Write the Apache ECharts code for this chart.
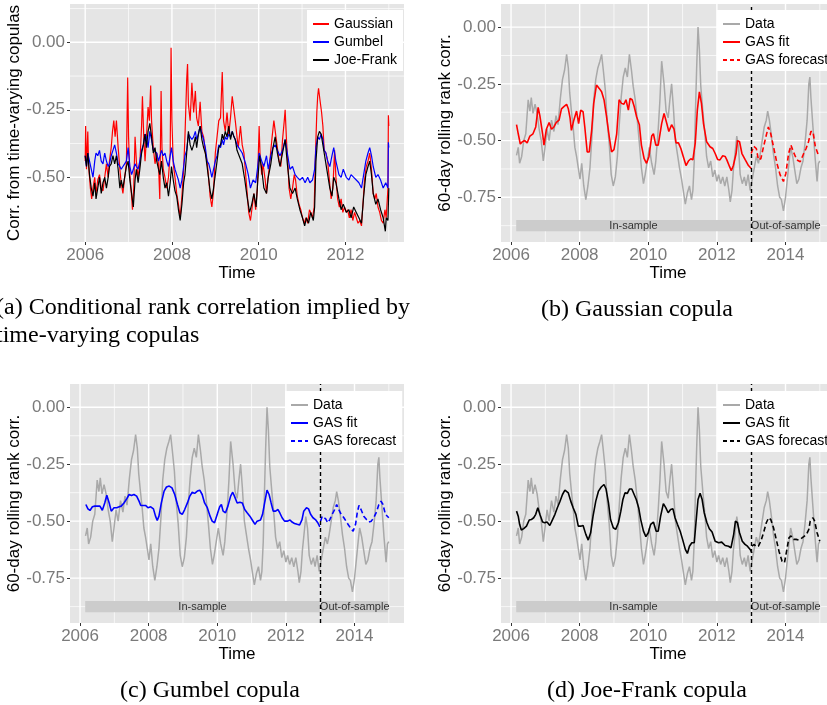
<!DOCTYPE html>
<html>
<head>
<meta charset="utf-8">
<script src="https://cdn.jsdelivr.net/npm/echarts@6/dist/echarts.min.js"></script>
<style>html,body{margin:0;padding:0;background:#fff;}#c{width:827px;height:705px;}</style>
</head>
<body>
<div id="c"></div>
<script>
// ---------- tick labels ----------
const xTicksA = [2006, 2008, 2010, 2012];
const xMinorA = [2007, 2009, 2011, 2013];
const xTicksB = [2006, 2008, 2010, 2012, 2014];
const xMinorB = [2007, 2009, 2011, 2013, 2015];
const yTicksA = [0, -0.25, -0.5];
const yMinorA = [0.125, -0.125, -0.375, -0.625];
const yTicksB = [0, -0.25, -0.5, -0.75];
const yMinorB = [-0.125, -0.375, -0.625, -0.875];

// ---------- panel (a): implied conditional rank correlation ----------
const gaussA = [[2006.00,-0.44],[2006.01,-0.31],[2006.03,-0.47],[2006.06,-0.33],[2006.08,-0.46],[2006.12,-0.54],[2006.15,-0.58],[2006.18,-0.54],[2006.22,-0.50],[2006.25,-0.56],[2006.29,-0.51],[2006.33,-0.49],[2006.37,-0.54],[2006.41,-0.55],[2006.45,-0.50],[2006.49,-0.45],[2006.53,-0.50],[2006.56,-0.44],[2006.60,-0.39],[2006.63,-0.33],[2006.66,-0.29],[2006.69,-0.35],[2006.72,-0.29],[2006.76,-0.39],[2006.80,-0.47],[2006.83,-0.52],[2006.87,-0.56],[2006.91,-0.50],[2006.95,-0.45],[2006.98,-0.13],[2007.00,-0.35],[2007.03,-0.49],[2007.07,-0.57],[2007.09,-0.62],[2007.12,-0.54],[2007.15,-0.35],[2007.18,-0.44],[2007.22,-0.50],[2007.26,-0.45],[2007.30,-0.31],[2007.32,-0.20],[2007.35,-0.35],[2007.38,-0.44],[2007.41,-0.36],[2007.45,-0.24],[2007.48,-0.29],[2007.51,-0.16],[2007.53,-0.29],[2007.57,-0.39],[2007.61,-0.45],[2007.65,-0.41],[2007.69,-0.45],[2007.72,-0.58],[2007.75,-0.18],[2007.77,-0.39],[2007.80,-0.47],[2007.84,-0.50],[2007.88,-0.54],[2007.92,-0.50],[2007.96,-0.41],[2007.98,-0.02],[2008.00,-0.29],[2008.03,-0.45],[2008.07,-0.50],[2008.11,-0.56],[2008.15,-0.60],[2008.19,-0.65],[2008.23,-0.57],[2008.27,-0.47],[2008.30,-0.35],[2008.34,-0.14],[2008.36,-0.08],[2008.38,-0.23],[2008.42,-0.29],[2008.46,-0.15],[2008.50,-0.26],[2008.54,-0.18],[2008.57,-0.28],[2008.61,-0.31],[2008.65,-0.22],[2008.69,-0.33],[2008.73,-0.35],[2008.77,-0.41],[2008.81,-0.44],[2008.85,-0.51],[2008.88,-0.57],[2008.92,-0.61],[2008.96,-0.55],[2009.00,-0.41],[2009.04,-0.35],[2009.08,-0.29],[2009.12,-0.28],[2009.16,-0.11],[2009.19,-0.29],[2009.23,-0.33],[2009.27,-0.26],[2009.31,-0.34],[2009.35,-0.28],[2009.39,-0.20],[2009.43,-0.20],[2009.46,-0.29],[2009.50,-0.35],[2009.53,-0.39],[2009.58,-0.31],[2009.62,-0.38],[2009.66,-0.41],[2009.70,-0.49],[2009.74,-0.57],[2009.77,-0.63],[2009.81,-0.66],[2009.85,-0.61],[2009.89,-0.56],[2009.93,-0.62],[2009.97,-0.54],[2010.01,-0.31],[2010.03,-0.41],[2010.07,-0.49],[2010.10,-0.45],[2010.15,-0.51],[2010.18,-0.56],[2010.21,-0.51],[2010.24,-0.47],[2010.28,-0.40],[2010.31,-0.35],[2010.35,-0.29],[2010.39,-0.34],[2010.43,-0.39],[2010.47,-0.44],[2010.51,-0.46],[2010.55,-0.36],[2010.59,-0.29],[2010.61,-0.25],[2010.64,-0.36],[2010.67,-0.44],[2010.70,-0.54],[2010.74,-0.58],[2010.78,-0.54],[2010.82,-0.49],[2010.85,-0.51],[2010.89,-0.57],[2010.93,-0.60],[2010.97,-0.62],[2011.01,-0.65],[2011.05,-0.67],[2011.09,-0.65],[2011.13,-0.67],[2011.17,-0.62],[2011.20,-0.63],[2011.24,-0.65],[2011.28,-0.61],[2011.31,-0.41],[2011.34,-0.26],[2011.36,-0.20],[2011.38,-0.17],[2011.41,-0.21],[2011.45,-0.26],[2011.48,-0.31],[2011.51,-0.40],[2011.55,-0.41],[2011.59,-0.44],[2011.63,-0.51],[2011.67,-0.58],[2011.71,-0.54],[2011.75,-0.40],[2011.78,-0.50],[2011.82,-0.58],[2011.86,-0.61],[2011.90,-0.58],[2011.94,-0.63],[2011.98,-0.61],[2012.02,-0.63],[2012.05,-0.62],[2012.09,-0.65],[2012.13,-0.62],[2012.17,-0.66],[2012.21,-0.63],[2012.25,-0.65],[2012.29,-0.67],[2012.33,-0.66],[2012.37,-0.68],[2012.40,-0.61],[2012.44,-0.51],[2012.48,-0.46],[2012.52,-0.44],[2012.56,-0.41],[2012.60,-0.47],[2012.64,-0.56],[2012.68,-0.58],[2012.71,-0.56],[2012.75,-0.61],[2012.79,-0.63],[2012.83,-0.66],[2012.87,-0.67],[2012.91,-0.62],[2012.94,-0.65],[2012.98,-0.54],[2012.99,-0.27],[2013.00,-0.31]];

const gumbA = [[2006.00,-0.42],[2006.03,-0.46],[2006.06,-0.41],[2006.10,-0.44],[2006.14,-0.47],[2006.18,-0.50],[2006.22,-0.44],[2006.25,-0.41],[2006.29,-0.42],[2006.33,-0.40],[2006.37,-0.44],[2006.41,-0.45],[2006.45,-0.41],[2006.49,-0.44],[2006.53,-0.46],[2006.56,-0.45],[2006.60,-0.42],[2006.64,-0.40],[2006.68,-0.38],[2006.72,-0.41],[2006.76,-0.45],[2006.80,-0.46],[2006.83,-0.47],[2006.87,-0.46],[2006.91,-0.45],[2006.95,-0.44],[2006.99,-0.39],[2007.03,-0.46],[2007.07,-0.49],[2007.11,-0.47],[2007.15,-0.45],[2007.18,-0.46],[2007.22,-0.47],[2007.26,-0.44],[2007.30,-0.40],[2007.34,-0.38],[2007.38,-0.34],[2007.41,-0.35],[2007.45,-0.39],[2007.49,-0.33],[2007.53,-0.36],[2007.57,-0.40],[2007.61,-0.40],[2007.65,-0.41],[2007.69,-0.44],[2007.72,-0.44],[2007.76,-0.40],[2007.80,-0.42],[2007.84,-0.41],[2007.88,-0.44],[2007.92,-0.46],[2007.96,-0.42],[2007.99,-0.39],[2008.03,-0.44],[2008.07,-0.47],[2008.11,-0.49],[2008.15,-0.51],[2008.19,-0.54],[2008.23,-0.51],[2008.27,-0.46],[2008.30,-0.42],[2008.34,-0.40],[2008.38,-0.34],[2008.42,-0.35],[2008.46,-0.36],[2008.50,-0.35],[2008.54,-0.33],[2008.57,-0.36],[2008.61,-0.34],[2008.65,-0.31],[2008.69,-0.34],[2008.73,-0.36],[2008.77,-0.39],[2008.81,-0.44],[2008.85,-0.45],[2008.88,-0.47],[2008.92,-0.50],[2008.96,-0.47],[2009.00,-0.44],[2009.04,-0.42],[2009.08,-0.38],[2009.12,-0.39],[2009.16,-0.36],[2009.19,-0.38],[2009.23,-0.35],[2009.27,-0.36],[2009.31,-0.34],[2009.35,-0.35],[2009.39,-0.33],[2009.43,-0.35],[2009.46,-0.36],[2009.50,-0.38],[2009.54,-0.38],[2009.62,-0.41],[2009.70,-0.45],[2009.76,-0.49],[2009.81,-0.54],[2009.87,-0.51],[2009.93,-0.52],[2009.97,-0.47],[2010.01,-0.41],[2010.07,-0.44],[2010.12,-0.46],[2010.18,-0.42],[2010.22,-0.47],[2010.28,-0.42],[2010.33,-0.39],[2010.38,-0.38],[2010.43,-0.40],[2010.49,-0.42],[2010.55,-0.40],[2010.61,-0.36],[2010.66,-0.41],[2010.72,-0.47],[2010.78,-0.46],[2010.84,-0.49],[2010.89,-0.50],[2010.95,-0.51],[2011.01,-0.50],[2011.07,-0.52],[2011.13,-0.50],[2011.18,-0.52],[2011.24,-0.51],[2011.29,-0.47],[2011.32,-0.39],[2011.36,-0.35],[2011.40,-0.36],[2011.44,-0.34],[2011.48,-0.36],[2011.51,-0.40],[2011.55,-0.41],[2011.59,-0.44],[2011.64,-0.46],[2011.69,-0.42],[2011.73,-0.39],[2011.78,-0.44],[2011.85,-0.49],[2011.90,-0.50],[2011.95,-0.47],[2012.02,-0.50],[2012.08,-0.51],[2012.13,-0.49],[2012.19,-0.50],[2012.25,-0.51],[2012.31,-0.52],[2012.37,-0.54],[2012.42,-0.49],[2012.47,-0.44],[2012.52,-0.41],[2012.56,-0.39],[2012.60,-0.42],[2012.64,-0.46],[2012.70,-0.50],[2012.75,-0.49],[2012.81,-0.51],[2012.87,-0.54],[2012.93,-0.52],[2012.98,-0.54],[2012.99,-0.37],[2013.00,-0.39]];

const joeA = [[2006.00,-0.42],[2006.03,-0.46],[2006.06,-0.41],[2006.10,-0.49],[2006.14,-0.54],[2006.18,-0.57],[2006.22,-0.52],[2006.25,-0.58],[2006.29,-0.54],[2006.33,-0.50],[2006.37,-0.56],[2006.41,-0.52],[2006.45,-0.50],[2006.49,-0.54],[2006.53,-0.50],[2006.56,-0.46],[2006.60,-0.45],[2006.64,-0.42],[2006.68,-0.45],[2006.72,-0.42],[2006.76,-0.47],[2006.80,-0.54],[2006.83,-0.51],[2006.87,-0.54],[2006.91,-0.50],[2006.95,-0.46],[2006.99,-0.44],[2007.03,-0.51],[2007.07,-0.56],[2007.11,-0.61],[2007.15,-0.51],[2007.18,-0.47],[2007.22,-0.52],[2007.26,-0.47],[2007.30,-0.41],[2007.34,-0.38],[2007.38,-0.34],[2007.41,-0.39],[2007.45,-0.33],[2007.49,-0.30],[2007.53,-0.35],[2007.57,-0.41],[2007.61,-0.39],[2007.65,-0.44],[2007.69,-0.47],[2007.72,-0.49],[2007.76,-0.44],[2007.80,-0.50],[2007.84,-0.54],[2007.88,-0.52],[2007.92,-0.57],[2007.96,-0.52],[2007.99,-0.46],[2008.03,-0.51],[2008.07,-0.55],[2008.11,-0.57],[2008.15,-0.62],[2008.19,-0.66],[2008.23,-0.60],[2008.27,-0.52],[2008.30,-0.49],[2008.34,-0.41],[2008.38,-0.33],[2008.42,-0.38],[2008.46,-0.40],[2008.50,-0.38],[2008.54,-0.35],[2008.57,-0.39],[2008.61,-0.34],[2008.65,-0.31],[2008.69,-0.36],[2008.73,-0.39],[2008.77,-0.41],[2008.81,-0.46],[2008.85,-0.51],[2008.88,-0.55],[2008.92,-0.58],[2008.96,-0.54],[2009.00,-0.49],[2009.04,-0.44],[2009.08,-0.39],[2009.12,-0.38],[2009.16,-0.34],[2009.19,-0.36],[2009.23,-0.33],[2009.27,-0.35],[2009.31,-0.31],[2009.35,-0.36],[2009.39,-0.33],[2009.43,-0.35],[2009.46,-0.36],[2009.50,-0.40],[2009.54,-0.40],[2009.62,-0.45],[2009.68,-0.51],[2009.74,-0.58],[2009.79,-0.63],[2009.84,-0.60],[2009.89,-0.56],[2009.94,-0.61],[2009.98,-0.51],[2010.02,-0.42],[2010.07,-0.47],[2010.12,-0.54],[2010.18,-0.56],[2010.22,-0.50],[2010.28,-0.45],[2010.33,-0.39],[2010.38,-0.35],[2010.43,-0.41],[2010.49,-0.46],[2010.55,-0.41],[2010.61,-0.36],[2010.66,-0.45],[2010.72,-0.54],[2010.78,-0.56],[2010.84,-0.54],[2010.89,-0.58],[2010.95,-0.62],[2011.01,-0.65],[2011.06,-0.68],[2011.10,-0.65],[2011.15,-0.67],[2011.20,-0.63],[2011.26,-0.66],[2011.29,-0.61],[2011.32,-0.44],[2011.36,-0.35],[2011.40,-0.33],[2011.44,-0.34],[2011.48,-0.38],[2011.51,-0.41],[2011.55,-0.45],[2011.59,-0.49],[2011.64,-0.54],[2011.69,-0.57],[2011.73,-0.50],[2011.78,-0.52],[2011.85,-0.58],[2011.90,-0.62],[2011.95,-0.60],[2012.02,-0.63],[2012.08,-0.62],[2012.13,-0.65],[2012.19,-0.61],[2012.25,-0.63],[2012.31,-0.65],[2012.37,-0.67],[2012.42,-0.57],[2012.47,-0.49],[2012.52,-0.46],[2012.56,-0.44],[2012.60,-0.49],[2012.64,-0.56],[2012.70,-0.60],[2012.75,-0.58],[2012.81,-0.62],[2012.87,-0.65],[2012.92,-0.70],[2012.94,-0.65],[2012.98,-0.66],[2013.00,-0.54],[2013.01,-0.54]];

// ---------- 60-day rolling rank correlation (panels b, c, d) ----------
const rollingData = [[2006.16,-0.565],[2006.21,-0.53],[2006.25,-0.60],[2006.31,-0.57],[2006.37,-0.50],[2006.43,-0.47],[2006.50,-0.32],[2006.55,-0.37],[2006.59,-0.31],[2006.64,-0.38],[2006.70,-0.34],[2006.76,-0.38],[2006.82,-0.45],[2006.88,-0.50],[2006.94,-0.59],[2006.99,-0.53],[2007.05,-0.45],[2007.11,-0.50],[2007.18,-0.41],[2007.25,-0.46],[2007.31,-0.39],[2007.37,-0.43],[2007.44,-0.31],[2007.50,-0.23],[2007.56,-0.19],[2007.62,-0.12],[2007.67,-0.18],[2007.71,-0.29],[2007.76,-0.37],[2007.81,-0.44],[2007.86,-0.53],[2007.91,-0.57],[2007.96,-0.62],[2008.01,-0.67],[2008.06,-0.60],[2008.12,-0.70],[2008.18,-0.76],[2008.24,-0.70],[2008.30,-0.62],[2008.36,-0.48],[2008.41,-0.32],[2008.47,-0.23],[2008.53,-0.18],[2008.59,-0.15],[2008.64,-0.12],[2008.69,-0.19],[2008.75,-0.28],[2008.80,-0.41],[2008.86,-0.51],[2008.92,-0.65],[2008.98,-0.70],[2009.04,-0.66],[2009.10,-0.57],[2009.15,-0.44],[2009.21,-0.31],[2009.27,-0.22],[2009.33,-0.18],[2009.39,-0.22],[2009.45,-0.12],[2009.51,-0.19],[2009.56,-0.26],[2009.62,-0.32],[2009.68,-0.41],[2009.74,-0.51],[2009.80,-0.62],[2009.86,-0.69],[2009.91,-0.65],[2009.97,-0.59],[2010.03,-0.53],[2010.10,-0.60],[2010.17,-0.65],[2010.22,-0.59],[2010.29,-0.45],[2010.34,-0.32],[2010.39,-0.15],[2010.46,-0.25],[2010.52,-0.37],[2010.58,-0.40],[2010.63,-0.32],[2010.68,-0.25],[2010.73,-0.35],[2010.79,-0.50],[2010.85,-0.56],[2010.91,-0.62],[2010.97,-0.67],[2011.02,-0.72],[2011.08,-0.78],[2011.14,-0.73],[2011.20,-0.70],[2011.26,-0.76],[2011.30,-0.72],[2011.34,-0.59],[2011.37,-0.40],[2011.41,-0.18],[2011.45,0.00],[2011.49,-0.10],[2011.53,-0.26],[2011.59,-0.37],[2011.65,-0.47],[2011.70,-0.57],[2011.76,-0.62],[2011.82,-0.59],[2011.88,-0.66],[2011.94,-0.63],[2012.00,-0.68],[2012.05,-0.65],[2012.11,-0.69],[2012.17,-0.66],[2012.23,-0.70],[2012.29,-0.66],[2012.35,-0.72],[2012.39,-0.77],[2012.44,-0.72],[2012.48,-0.63],[2012.54,-0.54],[2012.58,-0.48],[2012.63,-0.53],[2012.68,-0.65],[2012.74,-0.69],[2012.80,-0.66],[2012.85,-0.70],[2012.91,-0.65],[2012.97,-0.72],[2013.03,-0.67],[2013.09,-0.62],[2013.15,-0.57],[2013.21,-0.60],[2013.26,-0.56],[2013.32,-0.50],[2013.38,-0.44],[2013.44,-0.41],[2013.48,-0.37],[2013.53,-0.41],[2013.59,-0.48],[2013.65,-0.56],[2013.71,-0.62],[2013.77,-0.70],[2013.83,-0.75],[2013.88,-0.76],[2013.94,-0.81],[2014.00,-0.75],[2014.06,-0.66],[2014.12,-0.57],[2014.15,-0.53],[2014.21,-0.57],[2014.27,-0.63],[2014.33,-0.69],[2014.39,-0.67],[2014.45,-0.62],[2014.51,-0.59],[2014.57,-0.51],[2014.63,-0.41],[2014.68,-0.25],[2014.71,-0.22],[2014.74,-0.31],[2014.80,-0.44],[2014.86,-0.57],[2014.92,-0.68],[2014.96,-0.60],[2015.00,-0.59]];

// ---------- GAS fits (in-sample) and forecasts (out-of-sample) ----------
const gaussFit = [[2006.16,-0.43],[2006.21,-0.47],[2006.27,-0.515],[2006.33,-0.505],[2006.40,-0.50],[2006.47,-0.51],[2006.55,-0.48],[2006.64,-0.47],[2006.72,-0.44],[2006.79,-0.354],[2006.84,-0.39],[2006.92,-0.47],[2006.96,-0.52],[2007.03,-0.45],[2007.11,-0.42],[2007.18,-0.45],[2007.25,-0.44],[2007.32,-0.42],[2007.40,-0.41],[2007.47,-0.36],[2007.54,-0.35],[2007.62,-0.34],[2007.67,-0.36],[2007.72,-0.40],[2007.76,-0.455],[2007.83,-0.41],[2007.91,-0.37],[2007.97,-0.425],[2008.03,-0.366],[2008.10,-0.373],[2008.15,-0.44],[2008.22,-0.55],[2008.28,-0.55],[2008.35,-0.455],[2008.41,-0.336],[2008.49,-0.255],[2008.57,-0.27],[2008.64,-0.285],[2008.71,-0.32],[2008.78,-0.39],[2008.86,-0.48],[2008.93,-0.55],[2009.00,-0.54],[2009.08,-0.47],[2009.15,-0.32],[2009.22,-0.336],[2009.29,-0.34],[2009.35,-0.32],[2009.42,-0.366],[2009.47,-0.314],[2009.53,-0.32],[2009.59,-0.35],[2009.66,-0.395],[2009.74,-0.43],[2009.80,-0.52],[2009.88,-0.58],[2009.95,-0.60],[2010.02,-0.57],[2010.10,-0.48],[2010.15,-0.47],[2010.22,-0.52],[2010.29,-0.52],[2010.39,-0.425],[2010.46,-0.38],[2010.54,-0.425],[2010.60,-0.46],[2010.68,-0.43],[2010.75,-0.45],[2010.81,-0.51],[2010.88,-0.51],[2010.95,-0.535],[2011.02,-0.57],[2011.10,-0.61],[2011.17,-0.59],[2011.24,-0.58],[2011.30,-0.585],[2011.37,-0.51],[2011.43,-0.366],[2011.49,-0.285],[2011.55,-0.336],[2011.61,-0.425],[2011.70,-0.505],[2011.80,-0.527],[2011.88,-0.535],[2011.95,-0.557],[2012.02,-0.583],[2012.09,-0.585],[2012.17,-0.567],[2012.24,-0.57],[2012.29,-0.585],[2012.37,-0.615],[2012.42,-0.633],[2012.48,-0.61],[2012.56,-0.557],[2012.60,-0.50],[2012.66,-0.505],[2012.73,-0.557],[2012.82,-0.583],[2012.92,-0.61],[2013.00,-0.623]];
const gaussFcst = [[2013.00,-0.557],[2013.07,-0.525],[2013.15,-0.535],[2013.21,-0.585],[2013.28,-0.58],[2013.36,-0.527],[2013.44,-0.476],[2013.50,-0.44],[2013.57,-0.47],[2013.65,-0.527],[2013.75,-0.60],[2013.84,-0.65],[2013.94,-0.68],[2014.01,-0.645],[2014.09,-0.557],[2014.16,-0.52],[2014.23,-0.55],[2014.33,-0.585],[2014.43,-0.593],[2014.53,-0.557],[2014.60,-0.535],[2014.67,-0.505],[2014.74,-0.46],[2014.80,-0.46],[2014.87,-0.527],[2014.96,-0.565],[2015.00,-0.565]];

const gumbFit = [[2006.17,-0.427],[2006.23,-0.446],[2006.29,-0.453],[2006.36,-0.437],[2006.43,-0.434],[2006.51,-0.434],[2006.58,-0.434],[2006.65,-0.452],[2006.72,-0.42],[2006.78,-0.386],[2006.85,-0.42],[2006.91,-0.456],[2006.99,-0.441],[2007.07,-0.441],[2007.14,-0.437],[2007.20,-0.434],[2007.28,-0.42],[2007.36,-0.402],[2007.43,-0.383],[2007.50,-0.387],[2007.57,-0.383],[2007.65,-0.39],[2007.72,-0.412],[2007.77,-0.431],[2007.84,-0.431],[2007.91,-0.431],[2007.98,-0.441],[2008.06,-0.437],[2008.14,-0.446],[2008.20,-0.478],[2008.25,-0.497],[2008.30,-0.478],[2008.37,-0.42],[2008.45,-0.368],[2008.52,-0.35],[2008.60,-0.346],[2008.68,-0.354],[2008.76,-0.383],[2008.84,-0.427],[2008.91,-0.463],[2008.98,-0.47],[2009.05,-0.449],[2009.13,-0.42],[2009.20,-0.39],[2009.27,-0.373],[2009.34,-0.378],[2009.42,-0.368],[2009.49,-0.364],[2009.56,-0.383],[2009.63,-0.42],[2009.71,-0.441],[2009.79,-0.478],[2009.85,-0.50],[2009.92,-0.507],[2010.00,-0.47],[2010.07,-0.437],[2010.12,-0.427],[2010.17,-0.456],[2010.24,-0.463],[2010.31,-0.434],[2010.39,-0.39],[2010.45,-0.373],[2010.50,-0.39],[2010.58,-0.42],[2010.66,-0.417],[2010.73,-0.42],[2010.80,-0.449],[2010.87,-0.463],[2010.95,-0.478],[2011.03,-0.497],[2011.10,-0.514],[2011.16,-0.50],[2011.26,-0.495],[2011.32,-0.47],[2011.38,-0.42],[2011.45,-0.364],[2011.51,-0.383],[2011.57,-0.42],[2011.63,-0.456],[2011.70,-0.456],[2011.77,-0.449],[2011.82,-0.463],[2011.89,-0.485],[2011.96,-0.50],[2012.04,-0.50],[2012.12,-0.495],[2012.18,-0.504],[2012.25,-0.51],[2012.33,-0.514],[2012.40,-0.517],[2012.47,-0.493],[2012.52,-0.456],[2012.60,-0.441],[2012.66,-0.446],[2012.72,-0.47],[2012.79,-0.485],[2012.86,-0.493],[2012.93,-0.507],[2012.99,-0.525]];
const gumbFcst = [[2013.01,-0.50],[2013.06,-0.478],[2013.10,-0.47],[2013.16,-0.49],[2013.22,-0.507],[2013.28,-0.493],[2013.35,-0.47],[2013.42,-0.449],[2013.48,-0.427],[2013.54,-0.449],[2013.61,-0.47],[2013.69,-0.485],[2013.78,-0.507],[2013.88,-0.529],[2013.96,-0.544],[2014.03,-0.514],[2014.08,-0.463],[2014.13,-0.431],[2014.19,-0.449],[2014.27,-0.478],[2014.35,-0.493],[2014.42,-0.504],[2014.49,-0.50],[2014.56,-0.485],[2014.64,-0.46],[2014.71,-0.427],[2014.77,-0.412],[2014.83,-0.427],[2014.90,-0.47],[2015.00,-0.485]];

const joeFit = [[2006.16,-0.456],[2006.21,-0.478],[2006.25,-0.514],[2006.30,-0.539],[2006.37,-0.533],[2006.45,-0.522],[2006.53,-0.495],[2006.59,-0.493],[2006.66,-0.485],[2006.72,-0.47],[2006.78,-0.441],[2006.84,-0.47],[2006.92,-0.504],[2006.98,-0.507],[2007.05,-0.504],[2007.13,-0.519],[2007.21,-0.493],[2007.28,-0.47],[2007.35,-0.441],[2007.42,-0.416],[2007.50,-0.383],[2007.57,-0.364],[2007.62,-0.361],[2007.67,-0.376],[2007.74,-0.412],[2007.81,-0.441],[2007.89,-0.47],[2007.96,-0.522],[2008.03,-0.522],[2008.10,-0.519],[2008.18,-0.558],[2008.25,-0.583],[2008.32,-0.551],[2008.39,-0.478],[2008.47,-0.412],[2008.55,-0.368],[2008.63,-0.35],[2008.71,-0.339],[2008.77,-0.359],[2008.84,-0.42],[2008.90,-0.493],[2008.98,-0.529],[2009.05,-0.536],[2009.13,-0.507],[2009.20,-0.456],[2009.26,-0.405],[2009.32,-0.376],[2009.39,-0.378],[2009.45,-0.359],[2009.52,-0.359],[2009.57,-0.354],[2009.65,-0.405],[2009.72,-0.441],[2009.78,-0.493],[2009.86,-0.544],[2009.93,-0.568],[2010.00,-0.551],[2010.07,-0.514],[2010.15,-0.504],[2010.23,-0.544],[2010.29,-0.544],[2010.36,-0.478],[2010.44,-0.423],[2010.51,-0.441],[2010.58,-0.463],[2010.65,-0.449],[2010.72,-0.446],[2010.78,-0.485],[2010.85,-0.514],[2010.93,-0.544],[2011.00,-0.58],[2011.08,-0.624],[2011.14,-0.642],[2011.20,-0.61],[2011.27,-0.595],[2011.34,-0.595],[2011.39,-0.507],[2011.45,-0.405],[2011.51,-0.378],[2011.57,-0.405],[2011.63,-0.463],[2011.71,-0.507],[2011.78,-0.533],[2011.86,-0.548],[2011.95,-0.588],[2012.05,-0.595],[2012.14,-0.592],[2012.24,-0.607],[2012.34,-0.61],[2012.41,-0.617],[2012.49,-0.558],[2012.54,-0.50],[2012.60,-0.507],[2012.66,-0.551],[2012.74,-0.588],[2012.82,-0.602],[2012.89,-0.61],[2012.97,-0.624],[2013.02,-0.639]];
const joeFcst = [[2013.02,-0.61],[2013.09,-0.602],[2013.14,-0.612],[2013.21,-0.61],[2013.28,-0.588],[2013.36,-0.551],[2013.44,-0.507],[2013.51,-0.485],[2013.57,-0.493],[2013.65,-0.529],[2013.73,-0.58],[2013.81,-0.632],[2013.90,-0.676],[2013.97,-0.683],[2014.04,-0.624],[2014.10,-0.573],[2014.16,-0.565],[2014.24,-0.58],[2014.31,-0.58],[2014.38,-0.583],[2014.45,-0.577],[2014.53,-0.568],[2014.61,-0.558],[2014.68,-0.536],[2014.72,-0.50],[2014.80,-0.485],[2014.85,-0.50],[2014.92,-0.551],[2015.00,-0.588]];

// sample split and bands
const splitYear = 2013.0;
const inSampleBand = [2006.15, 2012.99];
const outSampleBand = [2013.04, 2014.97];
const bandRange = [-0.85, -0.90];

// ---------- styling ----------
const SANS = '"Liberation Sans", Arial, Helvetica, sans-serif';
const SERIF = '"Liberation Serif", "Times New Roman", serif';
const BG = '#e5e5e5';
const TICKCOL = '#7a7a7a';

const panels = [
  {grid: {left: 70, top: 4, width: 334, height: 238}, xr: [2005.65, 2013.35], yr: [-0.7396, 0.1419],
   xMaj: xTicksA, xMin: xMinorA, yMaj: yTicksA, yMin: yMinorA, yName: 'Corr. from time-varying copulas'},
  {grid: {left: 501, top: 4, width: 334, height: 238}, xr: [2005.7075, 2015.4425], yr: [-0.947, 0.102],
   xMaj: xTicksB, xMin: xMinorB, yMaj: yTicksB, yMin: yMinorB, yName: '60-day rolling rank corr.'},
  {grid: {left: 70, top: 384, width: 334, height: 239}, xr: [2005.7075, 2015.4425], yr: [-0.947, 0.102],
   xMaj: xTicksB, xMin: xMinorB, yMaj: yTicksB, yMin: yMinorB, yName: '60-day rolling rank corr.'},
  {grid: {left: 501, top: 384, width: 334, height: 239}, xr: [2005.7075, 2015.4425], yr: [-0.947, 0.102],
   xMaj: xTicksB, xMin: xMinorB, yMaj: yTicksB, yMin: yMinorB, yName: '60-day rolling rank corr.'}
];

const grids = [], xAxes = [], yAxes = [];
panels.forEach((p, i) => {
  grids.push(Object.assign({show: true, backgroundColor: BG, borderWidth: 0, containLabel: false, outerBoundsMode: 'none'}, p.grid));
  xAxes.push({
    type: 'value', gridIndex: i, min: p.xr[0], max: p.xr[1], position: 'bottom',
    axisLine: {show: false, onZero: false},
    axisTick: {show: true, length: 3, lineStyle: {color: '#333', width: 1}, customValues: p.xMaj},
    axisLabel: {customValues: p.xMaj, color: TICKCOL, fontSize: 17, fontFamily: SANS, margin: 5, formatter: v => String(Math.round(v))},
    splitLine: {show: false},
    name: 'Time', nameLocation: 'middle', nameGap: 23,
    nameTextStyle: {color: '#000', fontSize: 17, fontFamily: SANS}
  });
  yAxes.push({
    type: 'value', gridIndex: i, min: p.yr[0], max: p.yr[1], position: 'left',
    axisLine: {show: false, onZero: false},
    axisTick: {show: true, length: 3, lineStyle: {color: '#333', width: 1}, customValues: p.yMaj},
    axisLabel: {customValues: p.yMaj, color: TICKCOL, fontSize: 17, fontFamily: SANS, margin: 5, formatter: v => v.toFixed(2)},
    splitLine: {show: false},
    name: p.yName, nameLocation: 'middle', nameGap: 47, nameRotate: 90,
    nameTextStyle: {color: '#000', fontSize: 17, fontFamily: SANS}
  });
});

function line(name, data, panel, color, width, dashed, z) {
  return {
    type: 'line', name, data, xAxisIndex: panel, yAxisIndex: panel,
    showSymbol: false, symbol: 'none', smooth: false, silent: true, z: z,
    connectNulls: false,
    lineStyle: {color, width, type: dashed ? [5, 3] : 'solid'},
    itemStyle: {color}
  };
}

// white panel grid lines (major + minor) as plain line series beneath the data,
// each segment spanning the axis extent at a tick value, segments separated by gaps
function gridSegments(p, xs, ys) {
  const out = [];
  xs.forEach(v => { out.push([v, p.yr[0]], [v, p.yr[1]], null); });
  ys.forEach(v => { out.push([p.xr[0], v], [p.xr[1], v], null); });
  return out;
}
const series = [];
panels.forEach((p, i) => {
  series.push(line('gridMinor' + i, gridSegments(p, p.xMin, p.yMin), i, '#ffffff', 0.7, false, 2));
  series.push(line('gridMajor' + i, gridSegments(p, p.xMaj, p.yMaj), i, '#ffffff', 1.4, false, 2));
});

series.push(line('Gaussian', gaussA, 0, '#ff0000', 1.2, false, 3));
series.push(line('Gumbel', gumbA, 0, '#0000ff', 1.2, false, 4));
series.push(line('Joe-Frank', joeA, 0, '#000000', 1.2, false, 5));

const fits = [[gaussFit, gaussFcst, '#ff0000'], [gumbFit, gumbFcst, '#0000ff'], [joeFit, joeFcst, '#000000']];
fits.forEach((f, k) => {
  const p = k + 1;
  series.push(line('Data', rollingData, p, '#a9a9a9', 1.5, false, 3));
  series.push(line('GAS fit', f[0], p, f[2], 1.6, false, 4));
  const fc = line('GAS forecast', f[1], p, f[2], 1.6, true, 4);
  fc.markLine = {
    silent: true, z: 6, symbol: ['none', 'none'], label: {show: false},
    lineStyle: {color: '#000', width: 1.4, type: [4, 3]},
    data: [{xAxis: splitYear}]
  };
  fc.markArea = {
    silent: true, z: 3,
    itemStyle: {color: '#cccccc'},
    label: {show: true, position: 'inside', color: '#333', fontSize: 11, fontFamily: SANS},
    data: [
      [{name: 'In-sample', xAxis: inSampleBand[0], yAxis: bandRange[0]}, {xAxis: inSampleBand[1], yAxis: bandRange[1]}],
      [{name: 'Out-of-sample', xAxis: outSampleBand[0], yAxis: bandRange[0]}, {xAxis: outSampleBand[1], yAxis: bandRange[1]}]
    ]
  };
  series.push(fc);
});

function legendItem(name, color, dashed) {
  return {name, lineStyle: {color, width: 2, type: dashed ? [4, 3] : 'solid', opacity: 1}, itemStyle: {color, opacity: 0}};
}
function mkLegend(left, top, items, itemWidth, textGap) {
  return {
    left, top, z: 20, orient: 'vertical', backgroundColor: '#ffffff', borderWidth: 0,
    padding: [7, 6, 4, 5], itemWidth, itemHeight: 14, itemGap: 4, itemTextGap: textGap,
    selectedMode: false,
    textStyle: {color: '#000', fontSize: 14, fontFamily: SANS, lineHeight: 14},
    data: items
  };
}
const legends = [
  mkLegend(307, 10, [legendItem('Gaussian', '#ff0000'), legendItem('Gumbel', '#0000ff'), legendItem('Joe-Frank', '#000000')], 16, 4),
  mkLegend(717, 10, [legendItem('Data', '#a9a9a9'), legendItem('GAS fit', '#ff0000'), legendItem('GAS forecast', '#ff0000', true)], 17, 3),
  mkLegend(285, 391, [legendItem('Data', '#a9a9a9'), legendItem('GAS fit', '#0000ff'), legendItem('GAS forecast', '#0000ff', true)], 17, 3),
  mkLegend(717, 391, [legendItem('Data', '#a9a9a9'), legendItem('GAS fit', '#000000'), legendItem('GAS forecast', '#000000', true)], 17, 3)
];

const capStyle = {fontFamily: SERIF, fontSize: 24, fontWeight: 'normal', color: '#000', lineHeight: 28};
const titles = [
  {text: '(a) Conditional rank correlation implied by\ntime-varying copulas', left: -4, top: 294, padding: 0, textStyle: capStyle},
  {text: '(b) Gaussian copula', left: 541, top: 296, padding: 0, textStyle: capStyle},
  {text: '(c) Gumbel copula', left: 120, top: 677, padding: 0, textStyle: capStyle},
  {text: '(d) Joe-Frank copula', left: 547, top: 677, padding: 0, textStyle: capStyle}
];

const chart = echarts.init(document.getElementById('c'), null, {renderer: 'canvas', width: 827, height: 705});
chart.setOption({
  animation: false,
  backgroundColor: '#ffffff',
  title: titles,
  legend: legends,
  grid: grids,
  xAxis: xAxes,
  yAxis: yAxes,
  series: series
});
</script>
</body>
</html>
